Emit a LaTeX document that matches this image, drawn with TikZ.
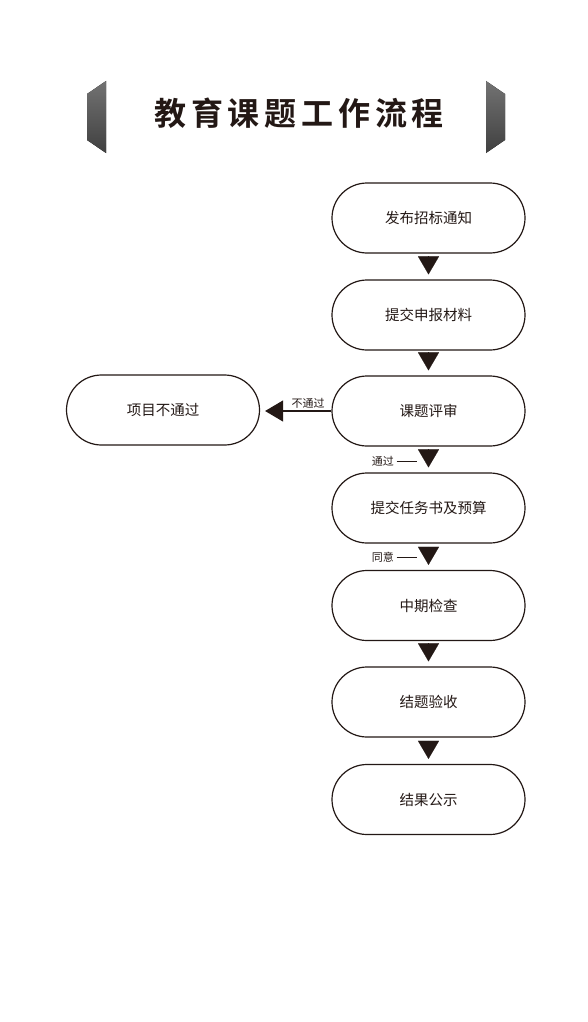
\documentclass[tikz,border=0pt]{standalone}
\usepackage{fontspec}
\newfontfamily\cjk{Noto Sans CJK SC}
\newfontfamily\cjkbold{Noto Sans CJK SC Bold}
\usetikzlibrary{arrows.meta,calc}
\definecolor{ink}{HTML}{231815}
\tikzset{
  stepbox/.style={draw=ink, line width=1.2pt, rounded corners=35pt, minimum width=193pt, minimum height=70pt, inner sep=0pt, font=\cjk\fontsize{14.5}{16}\selectfont, text=ink},
  flowtri/.style={draw=ink, fill=ink, -{Triangle[length=18pt,width=21pt]}, line width=0.1pt, shorten <=4pt, shorten >=5pt},
  smalllabel/.style={font=\cjk\fontsize{11}{12}\selectfont, text=ink, inner sep=0pt},
  deco/.style={top color=black!55, bottom color=black!75, draw=none}
}
\begin{document}
\begin{tikzpicture}[x=1pt,y=1pt]
\useasboundingbox (0,0) rectangle (588,-1022);
\fill[white] (0,0) rectangle (588,-1022);
% title
\fill[deco] (87,-94) -- (106,-81) -- (106,-153) -- (87,-140) -- cycle;
\fill[deco] (486,-81) -- (505,-94) -- (505,-140) -- (486,-153) -- cycle;
\node[text=ink, font=\cjkbold\fontsize{32}{34}\selectfont, inner sep=0pt] (title) at (299,-113)
  {教\hspace{4.8pt}育\hspace{4.8pt}课\hspace{4.8pt}题\hspace{4.8pt}工\hspace{4.8pt}作\hspace{4.8pt}流\hspace{4.8pt}程};
% boxes
\node[stepbox] (n1) at (428.5,-218) {发布招标通知};
\node[stepbox] (n2) at (428.5,-315) {提交申报材料};
\node[stepbox] (n3) at (428.5,-411) {课题评审};
\node[stepbox] (n4) at (428.5,-508) {提交任务书及预算};
\node[stepbox] (n5) at (428.5,-605.5) {中期检查};
\node[stepbox] (n6) at (428.5,-702) {结题验收};
\node[stepbox] (n7) at (428.5,-799.5) {结果公示};
\node[stepbox] (n8) at (163,-410) {项目不通过};
% vertical connectors
\draw[flowtri] (n1.south) -- (n2.north);
\draw[flowtri] (n2.south) -- (n3.north);
\draw[flowtri] (n3.south) -- (n4.north);
\draw[flowtri] (n4.south) -- (n5.north);
\draw[flowtri] (n5.south) -- (n6.north);
\draw[flowtri] (n6.south) -- (n7.north);
% reject connector
\draw[ink, line width=1.2pt, -{Triangle[length=18pt,width=21pt]}, shorten >=5pt] (n3.west) -- (n3.west -| n8.east);
\node[smalllabel] (lno) at (308,-403.5) {不通过};
% labels on vertical connectors
\node[smalllabel, anchor=east] (lyes) at (394,-461) {通过};
\coordinate (dyes) at (416.5,-461);
\draw[ink, line width=1pt] (lyes.east) ++(2.5pt,0) -- (dyes);
\node[smalllabel, anchor=east] (lagree) at (394,-557) {同意};
\coordinate (dagree) at (416.5,-557);
\draw[ink, line width=1pt] (lagree.east) ++(2.5pt,0) -- (dagree);
\end{tikzpicture}
\end{document}
